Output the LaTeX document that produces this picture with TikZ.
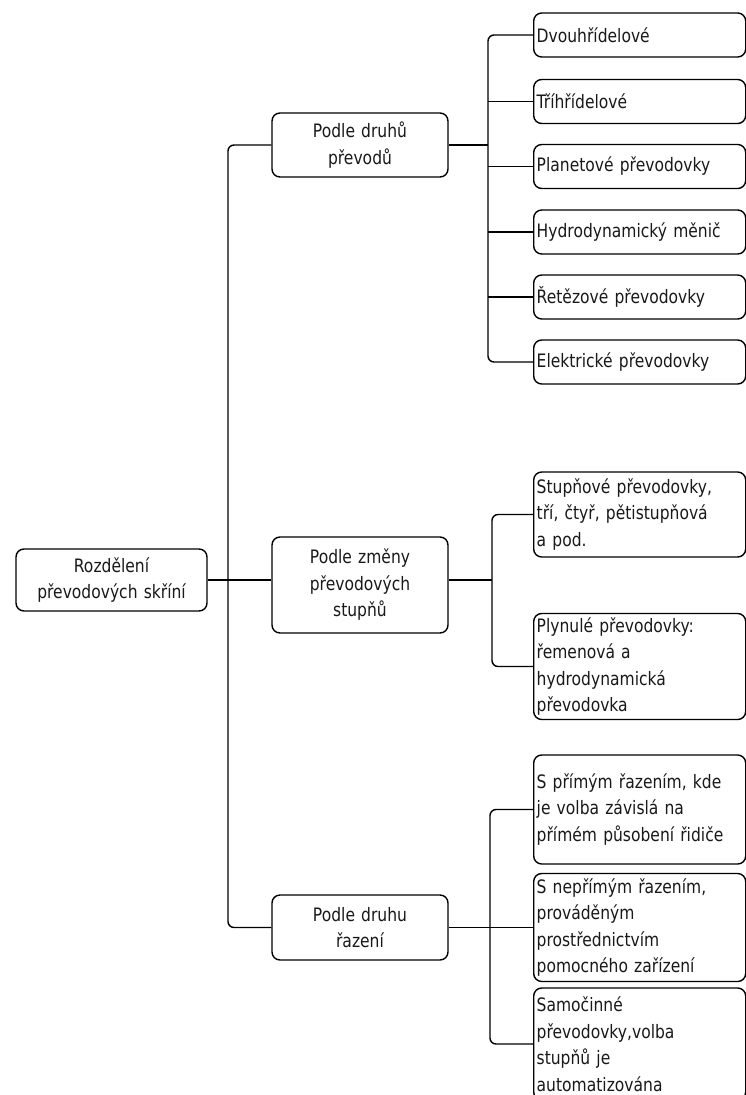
\documentclass[tikz,border=0pt]{standalone}
\usepackage{fontspec}
\setmainfont{DejaVu Sans}[FakeStretch=0.84]
\begin{document}
\begin{tikzpicture}[x=1pt,y=-1pt,
  box/.style={draw=black, line width=1.4pt, rounded corners=8pt,
    font=\fontsize{18.5}{26.5}\selectfont, text=black!90, inner xsep=5pt, inner ysep=0pt},
  leaf/.style={box, anchor=west, inner xsep=3pt, minimum width=212pt, text width=206pt, align=left},
  mid/.style={box, minimum width=176pt, text width=166pt, align=center},
  wire/.style={line width=1.4pt, rounded corners=6pt}]
\fill[white] (0,0) rectangle (746,1095);
\useasboundingbox (0,0) rectangle (746,1095);

% root and middle level
\node[box, minimum width=191pt, text width=181pt, align=center, minimum height=62pt] (root) at (111.5,580) {Rozdělení\\převodových skříní};
\node[mid, minimum height=64pt] (m1) at (360,145) {Podle druhů\\převodů};
\node[mid, minimum height=96pt] (m2) at (360,585) {Podle změny\\převodových\\stupňů};
\node[mid, minimum height=65pt] (m3) at (360,927.5) {Podle druhu\\řazení};

% group 1
\node[leaf, minimum height=44pt] (a1) at (533,35) {Dvouhřídelové};
\node[leaf, minimum height=44pt] (a2) at (533,101.5) {Tříhřídelové};
\node[leaf, minimum height=44pt] (a3) at (533,166.5) {Planetové převodovky};
\node[leaf, minimum height=44pt] (a4) at (533,232) {Hydrodynamický měnič};
\node[leaf, minimum height=44pt] (a5) at (533,297) {Řetězové převodovky};
\node[leaf, minimum height=44pt] (a6) at (533,362) {Elektrické převodovky};

% group 2
\node[leaf, minimum height=85pt] (b1) at (533,514.5) {Stupňové převodovky,\\tří, čtyř, pětistupňová\\a pod.};
\node[leaf, minimum height=106pt] (b2) at (533,666.5) {Plynulé převodovky:\\řemenová a\\hydrodynamická\\převodovka};

% group 3
\node[leaf, minimum height=109pt] (c1) at (533,809.5) {S přímým řazením, kde\\je volba závislá na\\přímém působení řidiče};
\node[leaf, minimum height=108pt] (c2) at (533,927.5) {S nepřímým řazením,\\prováděným\\prostřednictvím\\pomocného zařízení};
\node[leaf, minimum height=112pt] (c3) at (533,1044) {Samočinné\\převodovky,volba\\stupňů je\\automatizována};

% bus coordinates
\coordinate (t) at (228,0);
\coordinate (g1) at (488,0);
\coordinate (g2) at (492,0);
\coordinate (g3) at (490,0);

% trunk
\draw[wire] (m1.west) -- (m1.west -| t) -- (m3.west -| t) -- (m3.west);
\draw[wire] (root.east) -- (root.east -| m2.west);

% group 1 wires
\draw[wire] (m1.east) -- (m1.east -| g1);
\draw[wire] (a1.west) -- (a1.west -| g1) -- (a6.west -| g1) -- (a6.west);
\foreach \n in {a2,a3,a4,a5} \draw[wire] (\n.west -| g1) -- (\n.west);

% group 2 wires
\draw[wire] (root.east -| m2.east) -- (root.east -| g2);
\draw[wire] (b1.west) -- (b1.west -| g2) -- (b2.west -| g2) -- (b2.west);

% group 3 wires
\draw[wire] (m3.east) -- (c2.west);
\draw[wire] (c1.west) -- (c1.west -| g3) -- (c3.west -| g3) -- (c3.west);
\end{tikzpicture}
\end{document}
